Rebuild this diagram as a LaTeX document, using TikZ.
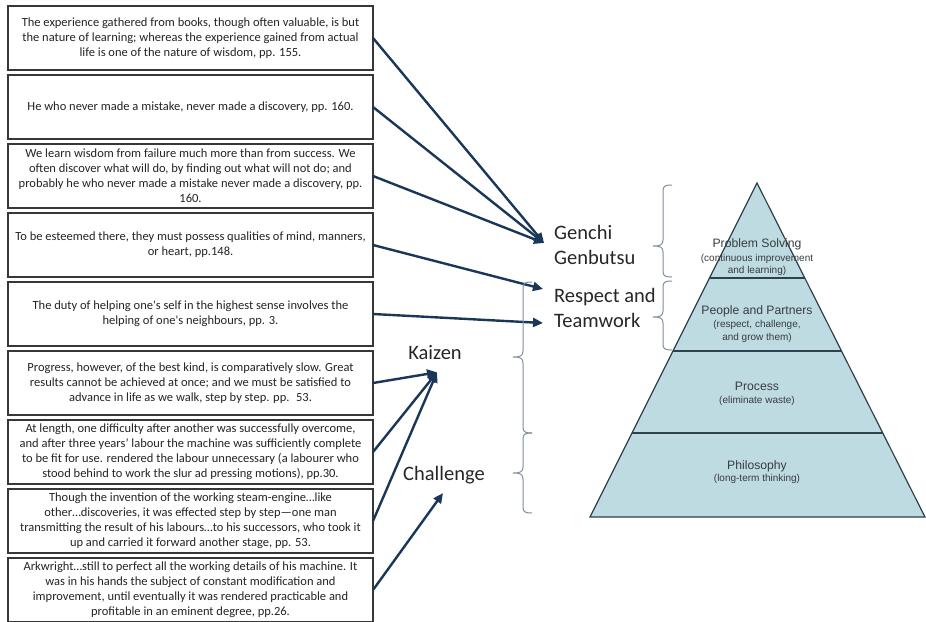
\documentclass[tikz,border=0pt]{standalone}
\usepackage{fontspec}
\setmainfont{Carlito}[Ligatures=TeXOff]
\newfontfamily\pyrfont{Liberation Sans}
\usepackage{xcolor}
\definecolor{navy}{RGB}{26,55,90}
\definecolor{boxline}{RGB}{55,55,55}
\definecolor{quotetext}{RGB}{35,35,35}
\definecolor{pyrfill}{RGB}{190,219,225}
\definecolor{pyrline}{RGB}{45,65,80}
\definecolor{pyrtext}{RGB}{55,60,65}
\definecolor{bracegray}{RGB}{125,142,160}
\usepackage{tikz}
\usetikzlibrary{arrows.meta, positioning, calc}
\tikzset{
  quotebox/.style={
    rectangle, draw=boxline, line width=1.3pt,
    text=quotetext, font=\fontsize{12.5}{15}\selectfont,
    minimum width=365pt, minimum height=64pt,
    align=center, inner sep=2pt, outer sep=0pt
  },
  principle/.style={
    font=\fontsize{20.5}{25}\selectfont, text=black!85,
    align=left, inner sep=1pt
  },
  tierhead/.style={font=\pyrfont\fontsize{12.2}{14}\selectfont, text=pyrtext, inner sep=0pt},
  tiersub/.style={font=\pyrfont\fontsize{10}{12.5}\selectfont, text=pyrtext, align=center, inner sep=0pt},
  arrowlink/.style={draw=navy, line width=2.4pt, -{Triangle[length=10pt,width=9pt]}},
  curly/.style={draw=bracegray, line width=1pt},
  pyramid/.style={fill=pyrfill, draw=pyrline, line width=1.2pt, line join=miter},
  tierline/.style={draw=pyrline, line width=1.1pt}
}
% brace opening to the right: x of the stem, top, tip, bottom
\newcommand{\sidebrace}[4]{%
  \draw[curly] (#1+9,#2) .. controls (#1+2,#2) and (#1,#2+1) .. (#1,#2+6)
    -- (#1,#3-6) .. controls (#1,#3-1) and (#1-3,#3) .. (#1-10,#3)
    .. controls (#1-3,#3) and (#1,#3+1) .. (#1,#3+6)
    -- (#1,#4-6) .. controls (#1,#4-1) and (#1+2,#4) .. (#1+9,#4);}

\begin{document}
\begin{tikzpicture}[x=1pt, y=-1pt, node distance=5pt]
  \useasboundingbox (0,0) rectangle (926,621);

  % --- quotes (left column) ---
  \node[quotebox, anchor=north] (q1) at (190.5,6) {The experience gathered from books, though often valuable, is but\\the nature of learning; whereas the experience gained from actual\\life is one of the nature of wisdom, pp. 155.};
  \node[quotebox, below=of q1] (q2) {He who never made a mistake, never made a discovery, pp. 160.};
  \node[quotebox, below=of q2] (q3) {We learn wisdom from failure much more than from success. We\\often discover what will do, by finding out what will not do; and\\probably he who never made a mistake never made a discovery, pp.\\160.};
  \node[quotebox, below=of q3] (q4) {To be esteemed there, they must possess qualities of mind, manners,\\or heart, pp.148.};
  \node[quotebox, below=of q4] (q5) {The duty of helping one's self in the highest sense involves the\\helping of one's neighbours, pp. 3.};
  \node[quotebox, below=of q5] (q6) {Progress, however, of the best kind, is comparatively slow. Great\\results cannot be achieved at once; and we must be satisfied to\\advance in life as we walk, step by step. pp.~ 53.};
  \node[quotebox, below=of q6] (q7) {At length, one difficulty after another was successfully overcome,\\and after three years’ labour the machine was sufficiently complete\\to be fit for use. rendered the labour unnecessary (a labourer who\\stood behind to work the slur ad pressing motions), pp.30.};
  \node[quotebox, below=of q7] (q8) {Though the invention of the working steam-engine…like\\other…discoveries, it was effected step by step—one man\\transmitting the result of his labours…to his successors, who took it\\up and carried it forward another stage, pp. 53.};
  \node[quotebox, below=of q8] (q9) {Arkwright…still to perfect all the working details of his machine. It\\was in his hands the subject of constant modification and\\improvement, until eventually it was rendered practicable and\\profitable in an eminent degree, pp.26.};

  % --- principles ---
  \node[principle, anchor=west] (genchi) at (553,245) {Genchi\\Genbutsu};
  \node[principle, anchor=west] (respect) at (553,308) {Respect and\\Teamwork};
  \node[principle] (kaizen) at (435,353) {Kaizen};
  \node[principle] (challenge) at (444,475) {Challenge};

  \coordinate (ggIn) at ([xshift=-9pt,yshift=2pt]genchi.west);
  \coordinate (rtA) at ([xshift=-10pt,yshift=19pt]respect.west);
  \coordinate (rtB) at ([xshift=-10pt,yshift=-15pt]respect.west);
  \coordinate (kzIn) at ([xshift=2pt,yshift=-11pt]kaizen.south);
  \coordinate (chIn) at ([xshift=-1pt,yshift=-8pt]challenge.south);

  % --- links ---
  \foreach \q in {q1,q2,q3} \draw[arrowlink] (\q.east) -- (ggIn);
  \draw[arrowlink] (q4.east) -- (rtA);
  \draw[arrowlink] (q5.east) -- (rtB);
  \foreach \q in {q6,q7,q8} \draw[arrowlink] (\q.east) -- (kzIn);
  \draw[arrowlink] (q9.east) -- (chIn);

  % --- braces ---
  \sidebrace{523}{282}{357}{433}
  \sidebrace{523}{433}{473}{513}
  \sidebrace{663}{185}{246}{277}
  \sidebrace{663}{281}{317}{350}

  % --- pyramid ---
  \coordinate (apex) at (757,183);
  \coordinate (baseL) at (590,517);
  \coordinate (baseR) at (925,517);
  \draw[pyramid] (apex) -- (baseL) -- (baseR) -- cycle;
  \foreach \f in {0.2844,0.503,0.7485}
    \draw[tierline] ($(apex)!\f!(baseL)$) -- ($(apex)!\f!(baseR)$);

  \node[tierhead] (solve) at (757,244) {Problem Solving};
  \node[tiersub] (solvesub) at (757,265) {(continuous improvement\\and learning)};
  \node[tierhead] (people) at (757,311) {People and Partners};
  \node[tiersub] (peoplesub) at (757,331.5) {(respect, challenge,\\and grow them)};
  \node[tierhead] (process) at (757,386) {Process};
  \node[tiersub] (processsub) at (757,401) {(eliminate waste)};
  \node[tierhead] (philo) at (757,466) {Philosophy};
  \node[tiersub] (philosub) at (757,479) {(long-term thinking)};

\end{tikzpicture}
\end{document}
